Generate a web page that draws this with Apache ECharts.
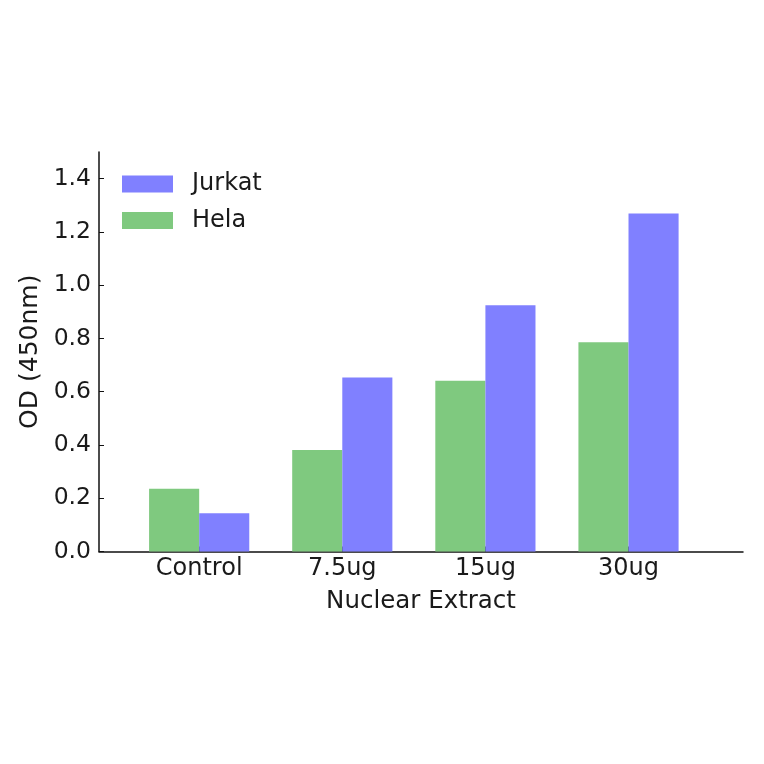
<!DOCTYPE html>
<html>
<head>
<meta charset="utf-8">
<script src="https://cdn.jsdelivr.net/npm/echarts@6/dist/echarts.min.js"></script>
<style>
html, body { margin: 0; padding: 0; background: #fff; }
#main { width: 764px; height: 764px; }
</style>
</head>
<body>
<div id="main"></div>
<script>
var categories = ["Control", "7.5ug", "15ug", "30ug"];
var helaValues = [0.236, 0.381, 0.641, 0.786];
var jurkatValues = [0.144, 0.653, 0.925, 1.269];
var yTicks = [0, 0.2, 0.4, 0.6, 0.8, 1.0, 1.2, 1.4];

// bars sit at i..i+0.7, tick in the middle (matplotlib style)
var tickPos = categories.map(function (c, i) { return i + 0.35; });

var myChart = echarts.init(document.getElementById("main"));

var font = "DejaVu Sans";
var textColor = "#1a1a1a";

var option = {
    animation: false,
    backgroundColor: "#fff",
    grid: {
        left: 99,
        right: 21,
        top: 152,
        bottom: 212.5,
    },
    legend: {
        data: ["Jurkat", "Hela"],
        orient: "vertical",
        left: 122,
        top: 172,
        padding: 0,
        icon: "rect",
        itemWidth: 51,
        itemHeight: 17,
        itemGap: 12.5,
        textStyle: {
            fontFamily: font,
            fontSize: 24,
            lineHeight: 24,
            color: textColor,
            padding: [0, 0, 0, 14],
        },
    },
    xAxis: {
        type: "value",
        min: -0.35,
        max: 4.15,
        name: "Nuclear Extract",
        nameLocation: "middle",
        nameGap: 38,
        nameTextStyle: { fontFamily: font, fontSize: 24.5, color: textColor },
        splitLine: { show: false },
        axisLine: { onZero: false, lineStyle: { color: "#111", width: 1.5 } },
        axisTick: {
            customValues: tickPos,
            inside: true,
            length: 5,
            lineStyle: { color: "#111" },
        },
        axisLabel: {
            customValues: tickPos,
            margin: 5,
            fontFamily: font,
            fontSize: 24,
            color: textColor,
            formatter: function (v) {
                var i = Math.round(v - 0.35);
                return categories[i] || "";
            },
        },
    },
    yAxis: {
        type: "value",
        min: 0,
        max: 1.5,
        name: "OD (450nm)",
        nameLocation: "middle",
        nameGap: 53,
        nameTextStyle: { fontFamily: font, fontSize: 25, color: textColor },
        splitLine: { show: false },
        axisLine: { show: true, onZero: false, lineStyle: { color: "#111", width: 1.5 } },
        axisTick: {
            customValues: yTicks,
            inside: true,
            length: 5,
            lineStyle: { color: "#111" },
        },
        axisLabel: {
            customValues: yTicks,
            margin: 8,
            fontFamily: font,
            fontSize: 23.5,
            color: textColor,
            formatter: function (v) { return v.toFixed(1); },
        },
    },
    series: [
        {
            name: "Hela",
            type: "bar",
            data: helaValues.map(function (v, i) { return [tickPos[i], v]; }),
            barWidth: "35%",
            barGap: "0%",
            itemStyle: { color: "#7fc97f" },
        },
        {
            name: "Jurkat",
            type: "bar",
            data: jurkatValues.map(function (v, i) { return [tickPos[i], v]; }),
            barWidth: "35%",
            barGap: "0%",
            itemStyle: { color: "#8080ff" },
        },
    ],
};
myChart.setOption(option);
</script>
</body>
</html>
